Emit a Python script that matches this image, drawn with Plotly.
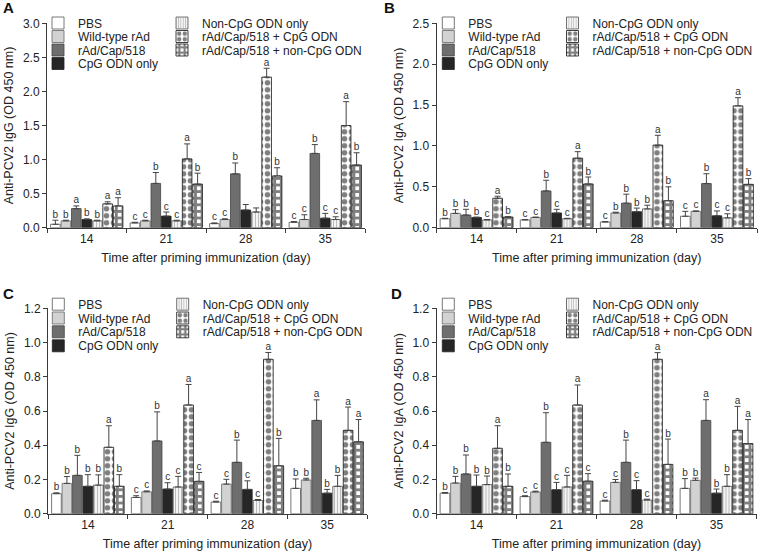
import plotly.graph_objects as go

W, H = 758, 554

days = ["14", "21", "28", "35"]
groups = ["PBS", "Wild-type rAd", "rAd/Cap/518", "CpG ODN only",
          "Non-CpG ODN only", "rAd/Cap/518 + CpG ODN", "rAd/Cap/518 + non-CpG ODN"]

# ---- Panel A: IgG ----
a_mean = [[0.05, 0.07, 0.06, 0.08],
          [0.10, 0.10, 0.12, 0.12],
          [0.28, 0.65, 0.79, 1.09],
          [0.12, 0.17, 0.26, 0.14],
          [0.10, 0.10, 0.23, 0.12],
          [0.35, 1.01, 2.21, 1.50],
          [0.32, 0.64, 0.76, 0.92]]
a_err = [[0.06, 0.01, 0.01, 0.01],
         [0.01, 0.01, 0.01, 0.07],
         [0.04, 0.16, 0.16, 0.13],
         [0.01, 0.06, 0.08, 0.07],
         [0.01, 0.01, 0.06, 0.04],
         [0.03, 0.22, 0.13, 0.35],
         [0.12, 0.16, 0.12, 0.18]]
a_sig = [["b", "c", "c", "c"],
         ["b", "c", "c", "c"],
         ["a", "b", "b", "b"],
         ["b", "c", "", "c"],
         ["b", "c", "", "c"],
         ["a", "a", "a", "a"],
         ["a", "b", "b", "b"]]

# ---- Panel B: IgA ----
b_mean = [[0.11, 0.095, 0.07, 0.14],
          [0.175, 0.125, 0.18, 0.20],
          [0.155, 0.45, 0.30, 0.54],
          [0.125, 0.18, 0.195, 0.145],
          [0.095, 0.11, 0.23, 0.12],
          [0.36, 0.85, 1.01, 1.49],
          [0.13, 0.535, 0.33, 0.53]]
b_err = [[0.005, 0.005, 0.005, 0.06],
         [0.045, 0.005, 0.01, 0.005],
         [0.07, 0.13, 0.11, 0.12],
         [0.005, 0.045, 0.045, 0.06],
         [0.005, 0.005, 0.045, 0.05],
         [0.025, 0.08, 0.12, 0.10],
         [0.005, 0.085, 0.17, 0.07]]
b_sig = [["b", "c", "c", "c"],
         ["b", "c", "b", "c"],
         ["b", "b", "b", "b"],
         ["b", "c", "b", "c"],
         ["c", "c", "b", "c"],
         ["a", "a", "a", "a"],
         ["b", "b", "b", "b"]]

# ---- Panel C: IgG ----
c_mean = [[0.117, 0.095, 0.068, 0.148],
          [0.177, 0.128, 0.173, 0.197],
          [0.224, 0.425, 0.30, 0.545],
          [0.16, 0.144, 0.142, 0.12],
          [0.167, 0.156, 0.078, 0.16],
          [0.388, 0.635, 0.902, 0.487],
          [0.16, 0.189, 0.28, 0.42]]
c_err = [[0.005, 0.01, 0.005, 0.055],
         [0.04, 0.005, 0.028, 0.01],
         [0.117, 0.17, 0.13, 0.12],
         [0.068, 0.037, 0.05, 0.022],
         [0.06, 0.062, 0.005, 0.064],
         [0.126, 0.12, 0.04, 0.136],
         [0.068, 0.052, 0.16, 0.13]]
c_sig = [["b", "c", "c", "b"],
         ["b", "c", "c", "b"],
         ["b", "b", "b", "a"],
         ["b", "c", "c", "b"],
         ["b", "c", "c", "b"],
         ["a", "a", "a", "a"],
         ["b", "c", "b", "a"]]

# ---- Panel D: IgA ----
d_mean = [[0.12, 0.10, 0.074, 0.148],
          [0.179, 0.127, 0.183, 0.195],
          [0.232, 0.417, 0.30, 0.545],
          [0.16, 0.14, 0.14, 0.12],
          [0.17, 0.156, 0.08, 0.16],
          [0.382, 0.635, 0.902, 0.487],
          [0.16, 0.19, 0.288, 0.41]]
d_err = [[0.004, 0.005, 0.005, 0.057],
         [0.039, 0.005, 0.017, 0.013],
         [0.111, 0.173, 0.13, 0.121],
         [0.066, 0.043, 0.053, 0.024],
         [0.05, 0.068, 0.005, 0.068],
         [0.132, 0.117, 0.039, 0.14],
         [0.072, 0.044, 0.148, 0.14]]
d_sig = [["b", "c", "c", "b"],
         ["b", "c", "c", "b"],
         ["b", "b", "b", "a"],
         ["b", "c", "c", "b"],
         ["b", "c", "c", "b"],
         ["a", "a", "a", "a"],
         ["b", "c", "b", "a"]]

panel_labels = ["A", "B", "C", "D"]
y_titles = ["Anti-PCV2 IgG (OD 450 nm)", "Anti-PCV2 IgA (OD 450 nm)",
            "Anti-PCV2 IgG (OD 450 nm)", "Anti-PCV2 IgA (OD 450 nm)"]
x_title = "Time after priming immunization (day)"
y_max = [3.0, 2.5, 1.2, 1.2]
y_step = [0.5, 0.5, 0.2, 0.2]

means = [a_mean, b_mean, c_mean, d_mean]
errs = [a_err, b_err, c_err, d_err]
sigs = [a_sig, b_sig, c_sig, d_sig]

# ---- styling / layout (pixel geometry) ----
FONT = "Liberation Sans, Arial, Helvetica, sans-serif"
AX = "#3a3a3a"
styles = [
    dict(color="white", line=dict(color="#555", width=0.8)),
    dict(color="#d2d2d2", line=dict(color="#666", width=0.8)),
    dict(color="#6e6e6e", line=dict(color="#444", width=0.8)),
    dict(color="#262626", line=dict(color="#222", width=0.8)),
    dict(color="white", line=dict(color="#555", width=0.8),
         pattern=dict(shape="|", fgcolor="#7a7a7a", bgcolor="white", size=3, solidity=0.45)),
    dict(color="white", line=dict(color="#111", width=0.8),
         pattern=dict(shape=".", fgcolor="black", bgcolor="white", size=7, solidity=0.5)),
    dict(color="white", line=dict(color="#111", width=0.8),
         pattern=dict(shape="+", fgcolor="black", bgcolor="white", size=6.6, solidity=0.68)),
]

# plot areas in pixels: (left, right, top, bottom)
areas = [(47, 365, 23.3, 227.7), (436.5, 757, 23.3, 227.7),
         (48, 367, 308.3, 513.7), (436.5, 756.5, 308.3, 513.7)]
# legend text start (px) for the two columns, and row centres (px)
legend_cols = [(78, 202), (468.3, 592.5), (78.3, 202.7), (468.3, 592.5)]
legend_rows = [[24.5, 38, 51.5, 65], [24.5, 38, 51.5, 65],
               [305.7, 319.5, 333.3, 347.3], [305.7, 319.5, 333.3, 347.3]]
label_pos = [(1, -3), (382, -3), (1, 283), (389, 283)]
TEXT_DX = 40    # legend text offset from legend left edge
TEXT_DY = -1.5  # legend vertical correction


def fx(px):
    return px / W


def fy(py):
    return 1 - py / H


fig = go.Figure()
layout = {}
annotations = []

for p in range(4):
    sfx = "" if p == 0 else str(p + 1)
    xa, ya = "x" + sfx, "y" + sfx
    for g in range(7):
        leg_idx = p * 7 + g + 1
        leg = "legend" if leg_idx == 1 else "legend%d" % leg_idx
        fig.add_trace(go.Bar(
            x=days, y=means[p][g], name=groups[g],
            marker=styles[g],
            error_y=dict(type="data", symmetric=False, array=errs[p][g],
                         arrayminus=[0] * len(days), color="#444",
                         thickness=1, width=3),
            xaxis=xa, yaxis=ya, legend=leg, showlegend=True,
            hoverinfo="x+y+name",
        ))
        col = 0 if g < 4 else 1
        row = g if g < 4 else g - 4
        layout[leg] = dict(
            x=fx(legend_cols[p][col] - TEXT_DX), xanchor="left",
            y=fy(legend_rows[p][row] + TEXT_DY), yanchor="middle",
            orientation="v", bgcolor="rgba(0,0,0,0)", borderwidth=0,
            font=dict(size=12, color="#222", family=FONT),
            itemclick=False, itemdoubleclick=False,
        )
    for g in range(7):
        tops = [m + e for m, e in zip(means[p][g], errs[p][g])]
        fig.add_trace(go.Scatter(
            x=days, y=tops, text=sigs[p][g], mode="text",
            textposition="top center",
            textfont=dict(size=10, color="#333", family=FONT),
            xaxis=xa, yaxis=ya, showlegend=False, cliponaxis=False,
            hoverinfo="skip",
        ))

    l, r, t, b = areas[p]
    layout["xaxis" + sfx] = dict(
        domain=[fx(l), fx(r)], anchor=ya, type="category",
        range=[-0.5, 3.5], tickson="boundaries", ticks="outside",
        ticklen=4, tickcolor=AX, showline=True, linecolor=AX, linewidth=1,
        showgrid=False, zeroline=False, automargin=False,
        tickfont=dict(size=12, color="#222", family=FONT),
        title=dict(text=x_title, font=dict(size=12.5, color="#222", family=FONT),
                   standoff=8),
    )
    layout["yaxis" + sfx] = dict(
        domain=[fy(b), fy(t)], anchor=xa, range=[0, y_max[p]],
        dtick=y_step[p], tick0=0, tickformat=".1f", ticks="outside",
        ticklen=4, tickcolor=AX, showline=True, linecolor=AX, linewidth=1,
        showgrid=False, zeroline=False, automargin=False,
        tickfont=dict(size=12, color="#222", family=FONT),
        title=dict(text=y_titles[p], font=dict(size=12.5, color="#222", family=FONT),
                   standoff=6),
    )
    lx, ly = label_pos[p]
    annotations.append(dict(
        text="<b>%s</b>" % panel_labels[p], x=fx(lx), y=fy(ly),
        xref="paper", yref="paper", xanchor="left", yanchor="top",
        showarrow=False, font=dict(size=15, color="#111", family=FONT),
    ))

fig.update_layout(
    width=W, height=H, margin=dict(l=0, r=0, t=0, b=0),
    paper_bgcolor="white", plot_bgcolor="white",
    barmode="group", bargap=0.08, bargroupgap=0.08,
    scattermode="group", scattergap=0.08,
    annotations=annotations, showlegend=True,
    font=dict(family=FONT, color="#222"),
    **layout,
)

fig.write_html(
    "out.html",
    config={"displayModeBar": False},
    post_script="document.body.style.margin='0';document.body.style.overflow='hidden';",
)
